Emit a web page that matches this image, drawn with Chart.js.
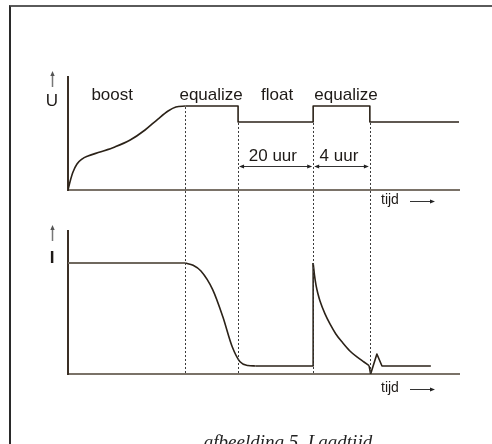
<!DOCTYPE html>
<html><head><meta charset="utf-8">
<script src="https://cdn.jsdelivr.net/npm/chart.js@4.4.1/dist/chart.umd.min.js"></script>
<style>
html,body{margin:0;padding:0;background:#fff;width:492px;height:444px;overflow:hidden;}
#frame{position:absolute;left:9px;top:5px;width:600px;height:600px;border-top:2px solid #5a5a5a;border-left:2px solid #2a2a2a;}
#cU{position:absolute;left:0;top:0;}
#cI{position:absolute;left:0;top:215px;}
#caption{position:absolute;left:0;width:576px;top:431px;line-height:21px;text-align:center;font:italic 19px "Liberation Serif",serif;color:#222;white-space:nowrap;}
</style></head>
<body>
<div id="frame"></div>
<canvas id="cU" width="492" height="215"></canvas>
<canvas id="cI" width="492" height="229"></canvas>
<div id="caption">afbeelding 5. Laadtijd</div>
<script>
// ---- data (arbitrary time units 0..100, relative levels 0..100) ----
const phaseBounds = [30, 43.5, 62.7, 77.2];
const phaseLabels = ['boost', 'equalize', 'float', 'equalize'];
const phaseLabelT = [11.3, 36.6, 53.5, 71.1];
const spanLabels = ['20 uur', '4 uur'];
const spanLabelT = [52.4, 69.3];
const axisTimeLabel = 'tijd';
const uLabel = 'U';
const iLabel = 'I';

// voltage U
const uBoostT = [0, 0.5, 1.28, 2.3, 3.58, 5.1, 8.2, 12.0, 15.9, 19.7, 23.0, 25.6, 27.6, 30];
const uBoostV = [0, 7.1, 15.9, 23.0, 27.4, 30.1, 33.6, 38.1, 44.2, 53.1, 62.8, 69.9, 73.5, 74.3];
const uStepT = [30, 43.5, 43.5, 62.7, 62.7, 77.2, 77.2, 100];
const uStepV = [74.3, 74.3, 60.2, 60.2, 74.3, 74.3, 60.2, 60.2];

// current I
const iConstT = [0, 30];
const iConstV = [77.6, 77.6];
const iDropT = [30, 32, 34, 37, 39.6, 42, 44, 46, 48];
const iDropV = [77.6, 76, 72, 59, 40, 19, 8.5, 6, 5.6];
const iFloatT = [48, 62.7, 62.7];
const iFloatV = [5.6, 5.6, 77.6];
const iDecayT = [62.7, 63.04, 63.43, 63.94, 64.45, 65.73, 67.0, 68.5, 70.3, 72.1, 73.9, 75.7, 77.0];
const iDecayV = [77.6, 69.2, 62.2, 55.9, 51.0, 42.0, 35.0, 28.0, 21.7, 16.1, 11.9, 8.4, 5.9];
const iZigT = [77.0, 77.4, 79.0, 80.3, 92.8];
const iZigV = [5.9, 0, 14, 5.6, 5.6];

// ---- helpers ----
const pts = (T, V) => T.map((t, k) => ({x: t, y: V[k]}));
const CURVE = '#2b2218';
const TXT = '#1e1a17';
const FONT = '"Liberation Sans", Arial, sans-serif';

function head(ctx, x, y, dx, dy, len, w) {
  ctx.beginPath();
  ctx.moveTo(x, y);
  ctx.lineTo(x - dx * len - dy * w, y - dy * len + dx * w);
  ctx.lineTo(x - dx * len + dy * w, y - dy * len - dx * w);
  ctx.closePath();
  ctx.fill();
}
function vArrow(ctx, x, yTop, yBot) {
  ctx.save();
  ctx.strokeStyle = '#777'; ctx.fillStyle = '#555'; ctx.lineWidth = 1.5;
  ctx.beginPath(); ctx.moveTo(x, yBot); ctx.lineTo(x, yTop + 3); ctx.stroke();
  head(ctx, x, yTop, 0, -1, 5, 2.2);
  ctx.restore();
}
function timeArrow(ctx, a, yMid) {
  ctx.save();
  ctx.fillStyle = TXT; ctx.font = '14px ' + FONT;
  ctx.textBaseline = 'middle'; ctx.textAlign = 'left';
  ctx.fillText(axisTimeLabel, a.right - 78, yMid);
  ctx.strokeStyle = '#333'; ctx.fillStyle = '#222'; ctx.lineWidth = 1;
  const x1 = a.right - 49, x2 = a.right - 24, yy = Math.round(yMid) + 1.5;
  ctx.beginPath(); ctx.moveTo(x1, yy); ctx.lineTo(x2 - 3, yy); ctx.stroke();
  head(ctx, x2, yy, 1, 0, 5, 2);
  ctx.restore();
}
function levelAt(b) {
  let m = Infinity;
  uStepT.forEach((t, k) => { if (t === b) m = Math.min(m, uStepV[k]); });
  uBoostT.forEach((t, k) => { if (t === b) m = Math.min(m, uBoostV[k]); });
  return m;
}

const baseScales = (ymin, ymax) => ({
  x: {type: 'linear', min: 0, max: 100, ticks: {display: false}, grid: {display: false, drawTicks: false},
      border: {display: true, color: '#7a7268', width: 2}},
  y: {type: 'linear', min: ymin, max: ymax, ticks: {display: false}, grid: {display: false, drawTicks: false},
      border: {display: true, color: '#3a2f25', width: 2}}
});
const lineDs = (data, opts = {}) => Object.assign({
  data, borderColor: CURVE, borderWidth: 1.6, pointRadius: 0, fill: false, tension: 0,
  borderJoinStyle: 'round'
}, opts);
const commonOpts = (padding, ymin, ymax) => ({
  responsive: false, animation: false, devicePixelRatio: 1,
  layout: {padding},
  scales: baseScales(ymin, ymax),
  plugins: {legend: {display: false}, tooltip: {enabled: false}},
  elements: {line: {capBezierPoints: true}}
});

// ---- top chart: U ----
const topPlugin = {
  id: 'topDiagram',
  afterDatasetsDraw(chart) {
    const {ctx, chartArea: a, scales: {x, y}} = chart;
    ctx.save();
    ctx.strokeStyle = '#3a3a3a'; ctx.lineWidth = 1; ctx.setLineDash([2, 2]);
    phaseBounds.forEach(b => {
      const px = Math.round(x.getPixelForValue(b)) + 0.5;
      ctx.beginPath(); ctx.moveTo(px, y.getPixelForValue(levelAt(b)) + 1); ctx.lineTo(px, chart.height); ctx.stroke();
    });
    ctx.setLineDash([]);
    ctx.fillStyle = TXT; ctx.font = '17px ' + FONT; ctx.textAlign = 'center'; ctx.textBaseline = 'middle';
    phaseLabels.forEach((s, k) => ctx.fillText(s, x.getPixelForValue(phaseLabelT[k]), y.getPixelForValue(84)));
    const ay = Math.round(y.getPixelForValue(21.2)) + 0.5;
    ctx.strokeStyle = '#333'; ctx.fillStyle = '#222'; ctx.lineWidth = 1;
    for (let k = 0; k < 2; k++) {
      const x1 = x.getPixelForValue(phaseBounds[k + 1]) + 1, x2 = x.getPixelForValue(phaseBounds[k + 2]) - 1;
      ctx.beginPath(); ctx.moveTo(x1 + 3, ay); ctx.lineTo(x2 - 3, ay); ctx.stroke();
      head(ctx, x1, ay, -1, 0, 5, 2); head(ctx, x2, ay, 1, 0, 5, 2);
      ctx.fillStyle = TXT;
      ctx.fillText(spanLabels[k], x.getPixelForValue(spanLabelT[k]), y.getPixelForValue(30.1));
      ctx.fillStyle = '#222';
    }
    vArrow(ctx, a.left - 15.5, a.top - 6, a.top + 10);
    ctx.fillStyle = TXT; ctx.font = '17px ' + FONT;
    ctx.fillText(uLabel, a.left - 16, a.top + 24);
    timeArrow(ctx, a, a.bottom + 10);
    ctx.restore();
  }
};
new Chart(document.getElementById('cU'), {
  type: 'line',
  data: {datasets: [
    lineDs(pts(uBoostT, uBoostV), {cubicInterpolationMode: 'monotone'}),
    lineDs(pts(uStepT, uStepV))
  ]},
  options: commonOpts({left: 68, top: 77, right: 33, bottom: 25}, 0, 100),
  plugins: [topPlugin]
});

// ---- bottom chart: I ----
const botPlugin = {
  id: 'botDiagram',
  afterDatasetsDraw(chart) {
    const {ctx, chartArea: a, scales: {x}} = chart;
    ctx.save();
    ctx.strokeStyle = '#3a3a3a'; ctx.lineWidth = 1; ctx.setLineDash([2, 2]);
    phaseBounds.forEach(b => {
      const px = Math.round(x.getPixelForValue(b)) + 0.5;
      ctx.beginPath(); ctx.moveTo(px, 0); ctx.lineTo(px, a.bottom); ctx.stroke();
    });
    ctx.setLineDash([]);
    vArrow(ctx, a.left - 15.5, a.top - 6, a.top + 10);
    ctx.fillStyle = TXT; ctx.font = 'bold 17px ' + FONT; ctx.textAlign = 'center'; ctx.textBaseline = 'middle';
    ctx.fillText(iLabel, a.left - 16, a.top + 27);
    timeArrow(ctx, a, a.bottom + 14);
    ctx.restore();
  }
};
new Chart(document.getElementById('cI'), {
  type: 'line',
  data: {datasets: [
    lineDs(pts(iConstT, iConstV), {borderColor: '#6f685e', borderWidth: 2}),
    lineDs(pts(iDropT, iDropV), {cubicInterpolationMode: 'monotone'}),
    lineDs(pts(iFloatT, iFloatV)),
    lineDs(pts(iDecayT, iDecayV), {cubicInterpolationMode: 'monotone'}),
    lineDs(pts(iZigT, iZigV))
  ]},
  options: commonOpts({left: 68, top: 16, right: 33, bottom: 70}, 0, 100),
  plugins: [botPlugin]
});
</script>
</body></html>
